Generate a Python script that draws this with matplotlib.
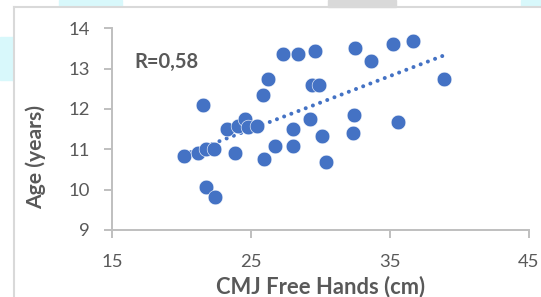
import numpy as np
import matplotlib
matplotlib.use("Agg")
import matplotlib.pyplot as plt
from matplotlib.patches import Rectangle
from matplotlib.lines import Line2D

# Data
cmj = [20.15, 21.19, 21.77, 22.36, 21.57, 21.77, 22.44, 23.26, 23.83, 24.05,
       24.60, 24.80, 25.42, 25.87, 26.24, 25.95, 26.77, 27.34, 28.43, 28.06,
       28.06, 29.65, 29.43, 29.90, 29.28, 30.12, 30.42, 32.51, 33.63, 32.46,
       32.34, 35.27, 36.69, 35.57, 38.88]
age = [10.84, 10.90, 11.01, 11.01, 12.09, 10.07, 9.83, 11.50, 10.92, 11.59,
       11.75, 11.56, 11.58, 12.34, 12.75, 10.75, 11.09, 13.36, 13.36, 11.50,
       11.09, 13.44, 12.60, 12.60, 11.75, 11.34, 10.68, 13.52, 13.19, 11.84,
       11.41, 13.60, 13.69, 11.67, 12.75]
x_ticks = [15, 25, 35, 45]
y_ticks = [9, 10, 11, 12, 13, 14]
r_label = "R=0,58"
x_label = "CMJ Free Hands (cm)"
y_label = "Age (years)"

blue = "#4472C4"
txt = "#595959"
grid_gray = "#bfbfbf"

W, H = 541, 297
fig = plt.figure(figsize=(W / 100, H / 100), dpi=100)
fig.patch.set_facecolor("white")

# screenshot artifacts and chart frame
def px_rect(x0, y0, w, h, color):
    fig.patches.append(Rectangle((x0 / W, 1 - (y0 + h) / H), w / W, h / H,
                                 transform=fig.transFigure, color=color, zorder=0))
px_rect(59, 0, 63, 6, "#d8f8fb")
px_rect(328, 0, 68, 7, "#d9d9d9")
px_rect(521, 0, 20, 6, "#d8f8fb")
px_rect(0, 37, 13, 43, "#d8f8fb")
fig.lines.append(Line2D([13.5 / W, 13.5 / W], [0, 1 - 7 / H], transform=fig.transFigure,
                        color="#d9d9d9", lw=1.5))
fig.lines.append(Line2D([13.5 / W, 1], [1 - 7 / H, 1 - 7 / H], transform=fig.transFigure,
                        color="#d9d9d9", lw=1.5))

ax = fig.add_axes([112 / W, 1 - 230 / H, (528.6 - 112) / W, (230 - 28.3) / H])
ax.set_facecolor("none")

x = np.array(cmj)
y = np.array(age)
ax.scatter(x, y, s=112, color=blue, edgecolors="white", linewidths=0.4, zorder=3)

m, b = np.polyfit(x, y, 1)
xs = np.array([x.min(), x.max()])
ax.plot(xs, m * xs + b, color=blue, lw=2.9, linestyle=(0, (0.01, 1.9)),
        dash_capstyle="round", zorder=2)

ax.set_xlim(15, 45)
ax.set_ylim(9, 14)
ax.set_xticks(x_ticks)
ax.set_yticks(y_ticks)

for s in ["top", "right"]:
    ax.spines[s].set_visible(False)
for s in ["left", "bottom"]:
    ax.spines[s].set_color(grid_gray)
    ax.spines[s].set_linewidth(1.4)

ax.tick_params(axis="both", direction="out", length=5.5, width=1.4, color=grid_gray,
               labelcolor=txt)
ax.tick_params(axis="x", pad=11.5)
ax.tick_params(axis="y", pad=10.5)
for lab in ax.get_xticklabels() + ax.get_yticklabels():
    lab.set_fontfamily("Lato")
    lab.set_fontsize(13.3)

ax.text(16.6, 13.17, r_label, fontfamily="Lato", fontweight="bold", fontsize=14.5,
        color=txt, va="center", ha="left")

fig.text(320.5 / W, 1 - 286.5 / H, x_label, fontfamily="Lato", fontweight="bold",
         fontsize=15.8, color=txt, ha="center", va="center")
fig.text(35.5 / W, 1 - 157 / H, y_label, fontfamily="Lato", fontweight="bold",
         fontsize=15.2, color=txt, ha="center", va="center", rotation=90)

fig.savefig("out.png", dpi=100, facecolor="white")
